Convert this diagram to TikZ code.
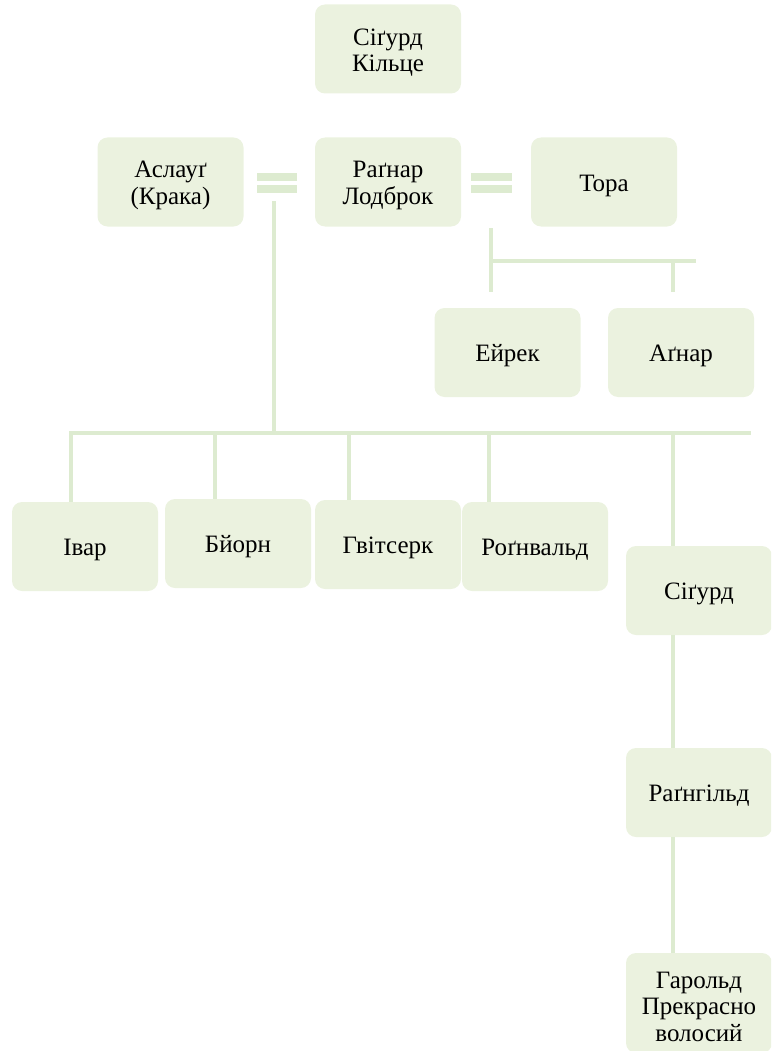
\documentclass[tikz,border=0pt]{standalone}
\usepackage{fontspec}
\setmainfont{Liberation Serif}
\definecolor{boxfill}{HTML}{EBF2DF}
\definecolor{linecol}{HTML}{DDEBD0}
\begin{document}
\begin{tikzpicture}[x=1pt,y=-1pt,
  person/.style={rectangle, rounded corners=10pt, fill=boxfill, draw=none,
    minimum width=146pt, minimum height=89pt, inner sep=0pt,
    label={[name/.expanded=\tikzlastnode-t, align=center, inner sep=0pt, yshift=-3.5pt,
      font=\fontsize{25}{26.5}\selectfont]center:#1}},
  link/.style={draw=linecol, line width=4pt},
  eqbar/.style={fill=linecol, draw=none}]
\useasboundingbox (0,0) rectangle (771,1051);
\begin{scope}
\clip (0,0) rectangle (771,1051);
% nodes
\node[person={Сіґурд\\Кільце}] (sk)    at (388,49)   {};
\node[person={Аслауґ\\(Крака)}] (asl)   at (170.5,182) {};
\node[person={Раґнар\\Лодброк}] (rag)   at (388,182)  {};
\node[person={Тора}] (tora)  at (604,182)  {};
\node[person={Ейрек}] (eir)   at (507.5,352.5) {};
\node[person={Аґнар}] (agn)   at (681,352.5) {};
\node[person={Івар}] (ivar)  at (85,546.5)  {};
\node[person={Бйорн}] (bjorn) at (238,543.5) {};
\node[person={Гвітсерк}] (hvit)  at (388,544.5) {};
\node[person={Роґнвальд}] (rogn)  at (535,546.5) {};
\node[person={Сіґурд}] (sig)   at (699,590.5) {};
\node[person={Раґнгільд}] (ragn)  at (699,792.5) {};
\node[person={Гарольд\\Прекрасно\\волосий}, minimum height=100pt] (har) at (699,1003) {};
% marriage signs
\fill[eqbar] (257,173) rectangle (297,181);
\fill[eqbar] (257,185) rectangle (297,193);
\fill[eqbar] (471,173) rectangle (512,181);
\fill[eqbar] (471,185) rectangle (512,193);
% junction coordinates
\coordinate (m1) at (274,201);
\coordinate (bus) at (274,433);
\coordinate (busL) at (69,433);
\coordinate (busR) at (751,433);
\coordinate (m2) at (491,228);
\coordinate (tbus) at (491,261);
\coordinate (tbusR) at (696,261);
% Aslaug + Ragnar children
\draw[link] (m1) -- (bus);
\draw[link] (busL) -- (busR);
\draw[link] (71,0 |- busL) -- (71,0 |- ivar.north);
\draw[link] (215,0 |- busL) -- (215,0 |- bjorn.north);
\draw[link] (349,0 |- busL) -- (349,0 |- hvit.north);
\draw[link] (489,0 |- busL) -- (489,0 |- rogn.north);
\draw[link] (673,0 |- busL) -- (673,0 |- sig.north);
% Tora children
\draw[link] (m2) -- (491,292);
\draw[link] (tbus) -- (tbusR);
\draw[link] (673,0 |- tbus) -- (673,292);
% descendants
\draw[link] (673,0 |- sig.south) -- (673,0 |- ragn.north);
\draw[link] (673,0 |- ragn.south) -- (673,0 |- har.north);
\end{scope}
\end{tikzpicture}
\end{document}
